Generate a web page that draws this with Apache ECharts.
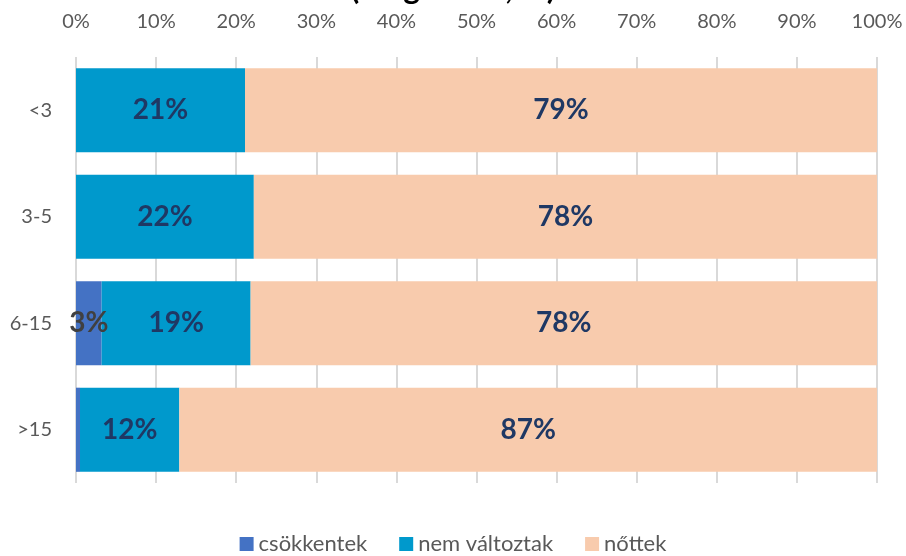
<!DOCTYPE html>
<html>
<head>
<meta charset="utf-8">
<script src="https://cdn.jsdelivr.net/npm/echarts@6/dist/echarts.min.js"></script>
<style>
  html, body { margin: 0; padding: 0; background: #fff; }
  #echart { width: 906px; height: 556px; }
</style>
</head>
<body>
<div id="echart"></div>
<script>
// adatok
var categories = ['<3', '3-5', '6-15', '>15'];
var csokkentek = [0, 0, 3.2, 0.5];
var nemValtoztak = [21.1, 22.2, 18.6, 12.4];
var nottek = [78.9, 77.8, 78.2, 87.1];
var seriesNames = ['csökkentek', 'nem változtak', 'nőttek'];
var colors = ['#4472C4', '#0099CC', '#F8CBAD'];

var fontFamily = 'Lato, "Open Sans", sans-serif';

function pctLabel(p) {
  return p.value < 1 ? '' : Math.round(p.value) + '%';
}

function makeSeries(name, data, color, labelColor) {
  return {
    name: name,
    type: 'bar',
    stack: 'total',
    barCategoryGap: '21%',
    itemStyle: { color: color },
    label: {
      show: true,
      position: 'inside',
      formatter: pctLabel,
      color: labelColor,
      fontSize: 28,
      fontWeight: 'bold',
      fontFamily: fontFamily
    },
    data: data
  };
}

var myChart = echarts.init(document.getElementById('echart'));
var option = {
  animation: false,
  title: {
    text: '(megoszlás, %)',
    left: 'center',
    top: -32,
    textStyle: { fontSize: 32, fontWeight: 'bold', color: '#000', fontFamily: fontFamily }
  },
  legend: {
    bottom: -4,
    left: 'center',
    itemWidth: 14,
    itemHeight: 14,
    itemGap: 32,
    icon: 'rect',
    textStyle: { color: '#595959', fontSize: 22, fontFamily: fontFamily },
    data: seriesNames
  },
  grid: {
    left: 76,
    right: 29,
    top: 57,
    bottom: 73
  },
  xAxis: {
    type: 'value',
    position: 'top',
    min: 0,
    max: 100,
    interval: 10,
    axisLine: { show: false },
    axisTick: { show: false },
    axisLabel: {
      formatter: '{value}%',
      color: '#595959',
      fontSize: 20,
      fontFamily: fontFamily,
      margin: 25
    },
    splitLine: { show: true, lineStyle: { color: '#D9D9D9', width: 2 } }
  },
  yAxis: {
    type: 'category',
    inverse: true,
    data: categories,
    axisLine: { show: false },
    axisTick: { show: false },
    axisLabel: {
      color: '#595959',
      fontSize: 20,
      fontFamily: fontFamily,
      margin: 24
    }
  },
  series: [
    makeSeries(seriesNames[0], csokkentek, colors[0], '#404040'),
    makeSeries(seriesNames[1], nemValtoztak, colors[1], '#1F3864'),
    makeSeries(seriesNames[2], nottek, colors[2], '#1F3864')
  ]
};
myChart.setOption(option);
</script>
</body>
</html>
